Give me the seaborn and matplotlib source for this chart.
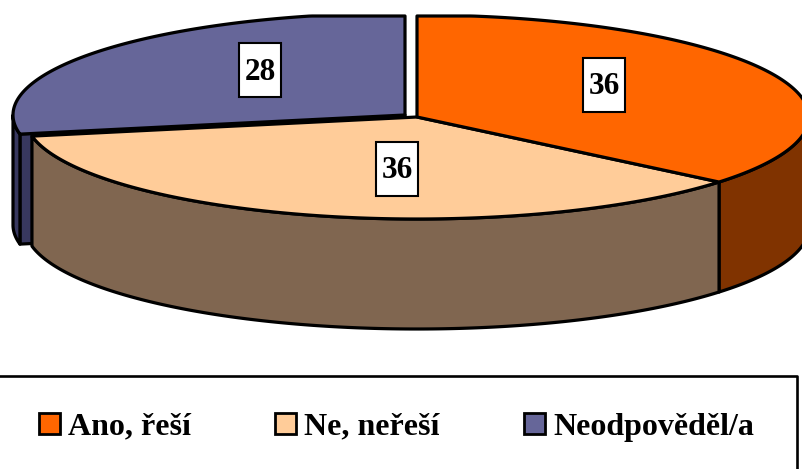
import seaborn as sns
import matplotlib.pyplot as plt
import numpy as np
from matplotlib.patches import Patch, Rectangle

kategorie = ['Ano, řeší', 'Ne, neřeší', 'Neodpověděl/a']
hodnoty = [36, 36, 28]
barvy = ['#FF6600', '#FFCC99', '#666699']
barvy_boky = ['#803300', '#806650', '#38385F']

sns.set_style('white')
plt.rcParams['font.family'] = ['Liberation Serif', 'DejaVu Serif']
plt.rcParams['font.weight'] = 'bold'
plt.rcParams['text.color'] = 'black'

# geometrie kolace v pixelech
RX, RY = 392, 102
VYSKA = 110
STRED = [(417, 117), (417, 117), (405, 115)]
POPISKY = [(604, 85), (397, 169), (260, 70)]
HORNI_OKRAJ = 16
LW = 2.3

paleta = sns.color_palette(barvy)
paleta_boky = sns.color_palette(barvy_boky)

fig = plt.figure(figsize=(8.03, 4.69), dpi=100)
ax = fig.add_axes([0, 0, 1, 1])
ax.set_xlim(0, 803)
ax.set_ylim(469, 0)
ax.axis('off')


def oblouk(stred, t1, t2):
    t = np.radians(np.linspace(t1, t2, 200))
    return stred[0] + RX * np.sin(t), stred[1] - RY * np.cos(t)


def plocha(x, y, barva, z=1):
    ax.fill(x, np.maximum(y, HORNI_OKRAJ), facecolor=barva, edgecolor='black',
            linewidth=LW, joinstyle='round', zorder=z, clip_on=True)


hranice = np.cumsum([0] + hodnoty) / sum(hodnoty) * 360

# vysek 3 - rez a vnejsi bok (vzadu)
t1, t2 = hranice[2], hranice[3]
sx, sy = oblouk(STRED[2], t1, t1)
plocha([STRED[2][0], sx[0], sx[0], STRED[2][0]],
       np.array([STRED[2][1], sy[0], sy[0] + VYSKA, STRED[2][1] + VYSKA]), paleta_boky[2], 1)
x, y = oblouk(STRED[2], t1, 270)
plocha(np.r_[x, x[::-1]], np.r_[y, y[::-1] + VYSKA], paleta_boky[2], 1)

# vysek 1 a 2 - boky
x, y = oblouk(STRED[0], 90, hranice[1])
plocha(np.r_[x, x[::-1]], np.r_[y, y[::-1] + VYSKA], paleta_boky[0], 2)
x, y = oblouk(STRED[1], hranice[1], hranice[2])
plocha(np.r_[x, x[::-1]], np.r_[y, y[::-1] + VYSKA], paleta_boky[1], 2)

# horni plochy
for i in [1, 0, 2]:
    x, y = oblouk(STRED[i], hranice[i], hranice[i + 1])
    plocha(np.r_[STRED[i][0], x], np.r_[STRED[i][1], y], paleta[i], 3)

# popisky hodnot
for hodnota, (px, py) in zip(hodnoty, POPISKY):
    ax.add_patch(Rectangle((px - 21, py - 27), 42, 54, facecolor='white', edgecolor='black',
                           linewidth=1.5, zorder=4))
    ax.text(px, py + 2, str(hodnota), ha='center', va='center', fontsize=22.5, zorder=5)

# ramecek legendy
ax.plot([-5, 797, 797], [376, 376, 475], color='black', linewidth=1.9, zorder=4, clip_on=True)

uchyty = [Patch(facecolor=b, edgecolor='black', linewidth=2) for b in paleta]
ax.legend(uchyty, kategorie, ncol=3, frameon=False, fontsize=23,
          loc='center left', bbox_to_anchor=(39 / 803, 1 - 427 / 469),
          handlelength=0.65, handleheight=0.65, handletextpad=0.25,
          columnspacing=2.65, borderpad=0, borderaxespad=0)

plt.savefig('out.png', dpi=100)
